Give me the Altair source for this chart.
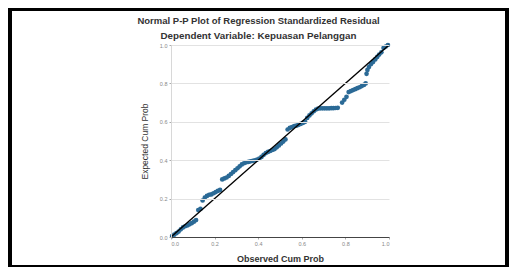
import altair as alt
import pandas as pd

# Observed cumulative probability (x) and expected cumulative probability (y)
observed = [
    0.005, 0.015, 0.025, 0.035, 0.045, 0.055, 0.065, 0.075, 0.085, 0.095, 0.105, 0.115,
    0.125, 0.135,
    0.145, 0.155, 0.165, 0.175, 0.185, 0.195, 0.205, 0.215, 0.225,
    0.235, 0.245, 0.255, 0.265, 0.275, 0.285, 0.295, 0.305, 0.315, 0.325, 0.335, 0.345,
    0.355, 0.365, 0.375, 0.385, 0.395, 0.405, 0.415, 0.425, 0.435, 0.445, 0.455, 0.465,
    0.475, 0.485, 0.495, 0.505, 0.515, 0.525,
    0.535, 0.545, 0.555, 0.565, 0.575, 0.585, 0.595, 0.605, 0.615,
    0.625, 0.635, 0.645, 0.655, 0.665, 0.675, 0.685, 0.695, 0.705, 0.715, 0.725, 0.735,
    0.745, 0.755, 0.765,
    0.785, 0.795, 0.805,
    0.815, 0.825, 0.835, 0.845, 0.855, 0.865, 0.875, 0.885, 0.893,
    0.897, 0.901, 0.908, 0.917, 0.927, 0.937, 0.946,
    0.955, 0.965, 0.975, 0.985, 0.995,
]
expected = [
    0.005, 0.012, 0.020, 0.028, 0.040, 0.050, 0.056, 0.060, 0.066, 0.072, 0.080, 0.088,
    0.140, 0.146,
    0.190, 0.205, 0.214, 0.220, 0.222, 0.228, 0.234, 0.240, 0.245,
    0.300, 0.305, 0.310, 0.318, 0.328, 0.338, 0.348, 0.358, 0.368, 0.378, 0.384, 0.389,
    0.391, 0.394, 0.396, 0.399, 0.403, 0.408, 0.417, 0.428, 0.437, 0.443, 0.448, 0.453,
    0.458, 0.467, 0.477, 0.487, 0.497, 0.508,
    0.560, 0.568, 0.573, 0.578, 0.580, 0.584, 0.589, 0.594, 0.600,
    0.620, 0.633, 0.644, 0.655, 0.664, 0.669, 0.670, 0.670, 0.670, 0.670, 0.670, 0.671,
    0.671, 0.672, 0.673,
    0.700, 0.715, 0.730,
    0.755, 0.760, 0.765, 0.770, 0.775, 0.780, 0.786, 0.792, 0.800,
    0.850, 0.870, 0.885, 0.900, 0.912, 0.925, 0.938,
    0.950, 0.962, 0.985, 0.992, 1.000,
]
ref_line = [0.0, 1.0]
tick_values = [0.0, 0.2, 0.4, 0.6, 0.8, 1.0]

points = pd.DataFrame({"obs": observed, "exp": expected})
diag = pd.DataFrame({"obs": ref_line, "exp": ref_line})
panel = pd.DataFrame({"k": [0]})

FONT = "Arial"

x_scale = alt.Scale(domain=[0, 1], nice=False)
y_scale = alt.Scale(domain=[0, 1], nice=False)

x_axis = alt.Axis(
    values=tick_values, format=".1f", grid=False, zindex=1, labelOverlap=False,
    domainColor="#444", domainWidth=1, tickColor="#aaa", tickSize=2,
    labelFontSize=5.5, labelColor="#888", labelFont=FONT, labelPadding=2,
    title="Observed Cum Prob", titleFont=FONT, titleFontSize=9,
    titleFontWeight="bold", titleColor="#333", titlePadding=8,
)
y_axis = alt.Axis(
    values=tick_values, format=".1f", grid=True, gridColor="#e2e2e2", zindex=1,
    labelOverlap=False,
    domainColor="#d8d8d8", tickColor="#aaa", tickSize=2,
    labelFontSize=5.5, labelColor="#888", labelFont=FONT, labelPadding=2,
    title="Expected Cum Prob", titleFont=FONT, titleFontSize=8.5,
    titleFontWeight="normal", titleColor="#333", titlePadding=10,
)

# white sheet inside the black frame (decoration)
sheet = alt.Chart(panel).mark_rect(color="white").encode(
    x=alt.value(-159), x2=alt.value(334), y=alt.value(-34), y2=alt.value(220)
)

dots = alt.Chart(points).mark_circle(size=22, color="#2b6a96", opacity=1).encode(
    x=alt.X("obs:Q", scale=x_scale, axis=x_axis),
    y=alt.Y("exp:Q", scale=y_scale, axis=y_axis),
)

line = alt.Chart(diag).mark_line(color="black", strokeWidth=1.4).encode(
    x=alt.X("obs:Q", scale=x_scale, axis=x_axis),
    y=alt.Y("exp:Q", scale=y_scale, axis=y_axis),
)

chart = alt.layer(sheet, dots, line).properties(
    width=218,
    height=192,
    title=alt.TitleParams(
        text="Normal P-P Plot of Regression Standardized Residual",
        subtitle="Dependent Variable: Kepuasan Pelanggan",
        font=FONT, fontSize=9.5, fontWeight="bold", color="#333",
        subtitleFont=FONT, subtitleFontSize=9.8, subtitleFontWeight="bold",
        subtitleColor="#333", subtitlePadding=6, offset=-30, anchor="middle",
        frame="bounds", zindex=1,
    ),
    autosize=alt.AutoSizeParams(type="none"),
    padding={"left": 163, "top": 37, "right": 120, "bottom": 30},
).configure(background="black").configure_view(stroke=None).configure_axis(
    labelOverlap=False
)

chart.save("out.html", embed_options={"renderer": "svg", "actions": False})
